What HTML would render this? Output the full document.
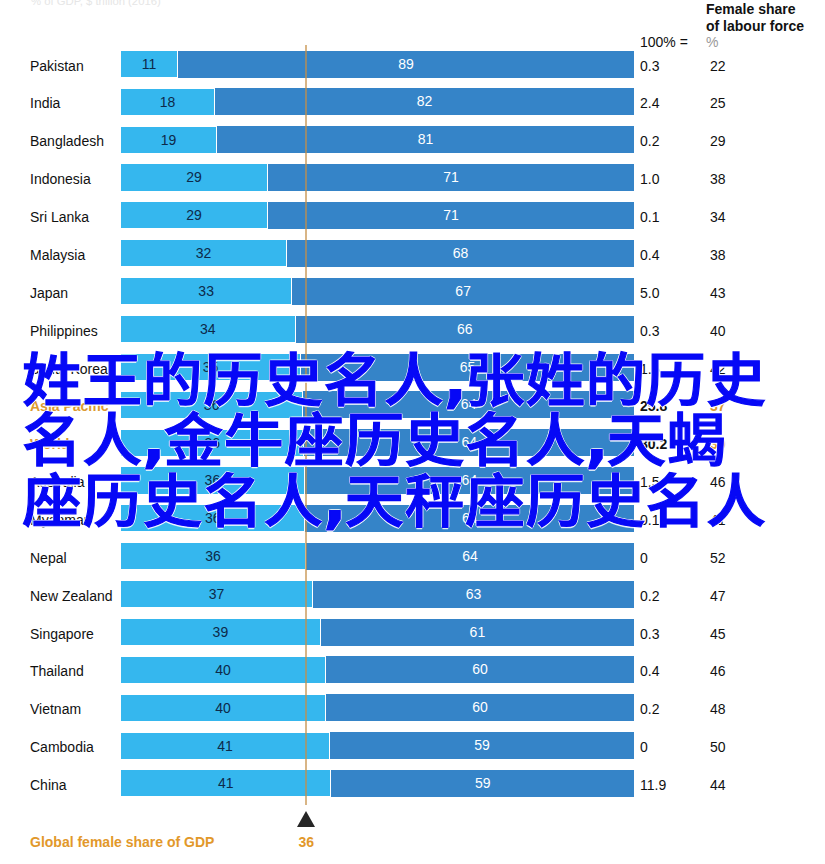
<!DOCTYPE html>
<html lang="zh">
<head>
<meta charset="utf-8">
<title>Female share of GDP</title>
<style>
html,body{margin:0;padding:0;background:#fff;}
body{width:825px;height:864px;position:relative;overflow:hidden;font-family:"Liberation Sans","Noto Sans CJK SC",sans-serif;font-size:14px;color:#111;}
.r{position:absolute;left:0;width:825px;height:27px;line-height:27px;}
.n{position:absolute;left:30px;top:2px;white-space:nowrap;}
.a{position:absolute;top:0.4px;height:26.1px;line-height:26.2px;background:#35b7ee;text-align:center;color:#0d2a4a;}
.b{position:absolute;top:0;height:27px;background:#3584c8;text-align:center;color:#fff;}
.g{position:absolute;left:640px;top:2px;}
.l{position:absolute;left:710px;top:2px;}
.o .n,.o .l{color:#dc9a30;font-weight:bold;}
.o .g{font-weight:bold;}
.line{position:absolute;left:305px;top:45px;width:1.5px;height:760px;background:rgba(198,142,70,0.66);}
.tri{position:absolute;left:296.5px;top:810.7px;width:0;height:0;border-left:9.5px solid transparent;border-right:9.5px solid transparent;border-bottom:16px solid #262626;}
.foot{position:absolute;left:30px;top:833.5px;color:#e2982a;font-weight:bold;font-size:14px;white-space:nowrap;}
.f36{position:absolute;left:298.5px;top:833.5px;color:#e2982a;font-weight:bold;font-size:14px;}
.h1{position:absolute;left:706px;top:0.5px;font-weight:bold;font-size:14px;line-height:17px;white-space:nowrap;color:#111;}
.h2{position:absolute;left:706px;top:34px;font-size:14px;color:#999;}
.h3{position:absolute;left:640px;top:34px;font-size:14px;color:#111;white-space:nowrap;}
.top{position:absolute;left:31px;top:-5px;font-size:11.3px;color:#e6e6e6;white-space:nowrap;}
.ov{position:absolute;left:22px;top:350.5px;width:800px;text-align:left;font-family:"Liberation Sans","Noto Sans CJK SC",sans-serif;font-weight:500;font-size:60px;line-height:60px;letter-spacing:0.3px;color:#0608f6;-webkit-text-stroke:1.2px #0608f6;text-shadow:1.3px 0 .4px rgba(255,255,255,.8),-1.3px 0 .4px rgba(255,255,255,.8),0 1.3px .4px rgba(255,255,255,.8),0 -1.3px .4px rgba(255,255,255,.8),.9px .9px .4px rgba(255,255,255,.8),-.9px .9px .4px rgba(255,255,255,.8),.9px -.9px .4px rgba(255,255,255,.8),-.9px -.9px .4px rgba(255,255,255,.8);white-space:nowrap;}
.ov div{position:absolute;left:0;height:60px;transform:scaleY(0.965);transform-origin:0 50%;}.ov i{font-style:normal;font-family:"DejaVu Sans","Liberation Sans",sans-serif;font-weight:bold;margin-right:-2.3px;}
</style>
</head>
<body>
<div class="top">% of GDP, $ trillion (2016)</div>
<div class="h1">Female share<br>of labour force</div>
<div class="h3">100% =</div>
<div class="h2">%</div>

<div class="r" style="top:50.5px"><span class="n">Pakistan</span><span class="a" style="left:121px;width:56.0px">11</span><span class="b" style="left:178.0px;width:456.0px">89</span><span class="g">0.3</span><span class="l">22</span></div>
<div class="r" style="top:88.4px"><span class="n">India</span><span class="a" style="left:121px;width:92.9px">18</span><span class="b" style="left:214.9px;width:419.1px">82</span><span class="g">2.4</span><span class="l">25</span></div>
<div class="r" style="top:126.2px"><span class="n">Bangladesh</span><span class="a" style="left:121px;width:95.1px">19</span><span class="b" style="left:217.1px;width:416.9px">81</span><span class="g">0.2</span><span class="l">29</span></div>
<div class="r" style="top:164.1px"><span class="n">Indonesia</span><span class="a" style="left:121px;width:146.1px">29</span><span class="b" style="left:268.1px;width:365.9px">71</span><span class="g">1.0</span><span class="l">38</span></div>
<div class="r" style="top:202.0px"><span class="n">Sri Lanka</span><span class="a" style="left:121px;width:146.1px">29</span><span class="b" style="left:268.1px;width:365.9px">71</span><span class="g">0.1</span><span class="l">34</span></div>
<div class="r" style="top:239.8px"><span class="n">Malaysia</span><span class="a" style="left:121px;width:165.0px">32</span><span class="b" style="left:287.0px;width:347.0px">68</span><span class="g">0.4</span><span class="l">38</span></div>
<div class="r" style="top:277.7px"><span class="n">Japan</span><span class="a" style="left:121px;width:170.3px">33</span><span class="b" style="left:292.3px;width:341.7px">67</span><span class="g">5.0</span><span class="l">43</span></div>
<div class="r" style="top:315.6px"><span class="n">Philippines</span><span class="a" style="left:121px;width:173.6px">34</span><span class="b" style="left:295.6px;width:338.4px">66</span><span class="g">0.3</span><span class="l">40</span></div>
<div class="r" style="top:353.5px"><span class="n">South Korea</span><span class="a" style="left:121px;width:179.1px">35</span><span class="b" style="left:301.1px;width:332.9px">65</span><span class="g">1.5</span><span class="l">42</span></div>
<div class="r o" style="top:391.3px"><span class="n">Asia Pacific</span><span class="a" style="left:121px;width:181.3px">36</span><span class="b" style="left:303.3px;width:330.7px">64</span><span class="g">25.8</span><span class="l">37</span></div>
<div class="r o" style="top:429.2px"><span class="n">World</span><span class="a" style="left:121px;width:182.4px">36</span><span class="b" style="left:304.4px;width:329.6px">64</span><span class="g">80.2</span><span class="l">39</span></div>
<div class="r" style="top:467.1px"><span class="n">Australia</span><span class="a" style="left:121px;width:182.8px">36</span><span class="b" style="left:304.8px;width:329.2px">64</span><span class="g">1.5</span><span class="l">46</span></div>
<div class="r" style="top:504.9px"><span class="n">Myanmar</span><span class="a" style="left:121px;width:183.4px">36</span><span class="b" style="left:305.4px;width:328.6px">64</span><span class="g">0.1</span><span class="l">41</span></div>
<div class="r" style="top:542.8px"><span class="n">Nepal</span><span class="a" style="left:121px;width:183.9px">36</span><span class="b" style="left:305.9px;width:328.1px">64</span><span class="g">0</span><span class="l">52</span></div>
<div class="r" style="top:580.7px"><span class="n">New Zealand</span><span class="a" style="left:121px;width:191.1px">37</span><span class="b" style="left:313.1px;width:320.9px">63</span><span class="g">0.2</span><span class="l">47</span></div>
<div class="r" style="top:618.5px"><span class="n">Singapore</span><span class="a" style="left:121px;width:198.8px">39</span><span class="b" style="left:320.8px;width:313.2px">61</span><span class="g">0.3</span><span class="l">45</span></div>
<div class="r" style="top:656.4px"><span class="n">Thailand</span><span class="a" style="left:121px;width:204.1px">40</span><span class="b" style="left:326.1px;width:307.9px">60</span><span class="g">0.4</span><span class="l">46</span></div>
<div class="r" style="top:694.3px"><span class="n">Vietnam</span><span class="a" style="left:121px;width:204.1px">40</span><span class="b" style="left:326.1px;width:307.9px">60</span><span class="g">0.2</span><span class="l">48</span></div>
<div class="r" style="top:732.2px"><span class="n">Cambodia</span><span class="a" style="left:121px;width:208.1px">41</span><span class="b" style="left:330.1px;width:303.9px">59</span><span class="g">0</span><span class="l">50</span></div>
<div class="r" style="top:770.0px"><span class="n">China</span><span class="a" style="left:121px;width:209.4px">41</span><span class="b" style="left:331.4px;width:302.6px">59</span><span class="g">11.9</span><span class="l">44</span></div>
<div class="line"></div>
<div class="tri"></div>
<div class="foot">Global female share of GDP</div>
<div class="f36">36</div>
<div class="ov"><div style="top:0">姓王的历史名人<i>,</i>张姓的历史</div><div style="top:60.5px">名人<i>,</i>金牛座历史名人<i>,</i>天蝎</div><div style="top:121px">座历史名人<i>,</i>天秤座历史名人</div></div>
</body>
</html>
